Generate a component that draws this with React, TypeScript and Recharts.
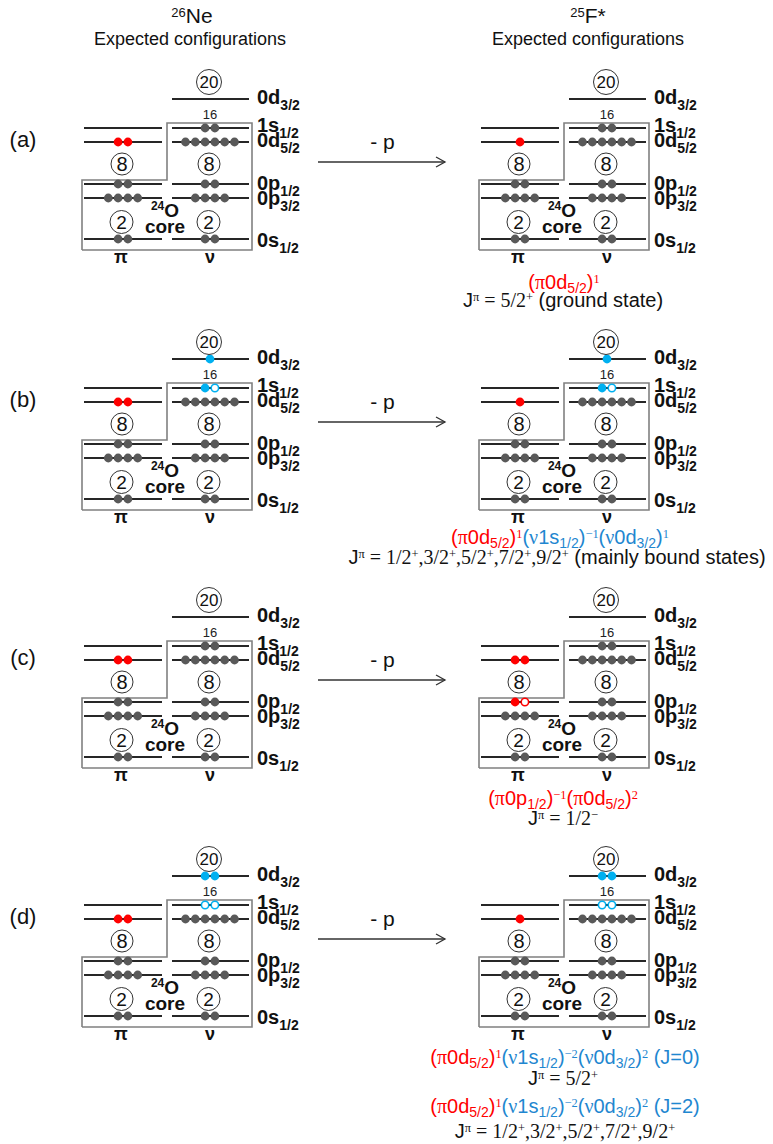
import React from "react";
import { ComposedChart, XAxis, YAxis, Scatter, ReferenceLine } from "recharts";

// shell-model orbitals, schematic energies (0s1/2 = 0)
const orbitals = ["0s", "0p", "0p", "0d", "1s", "0d"];
const spins = ["1/2", "3/2", "1/2", "5/2", "1/2", "3/2"];
const energies = [0, 41, 55, 97, 111, 140];

// occupation per orbital: g = 24O core, r = proton, b = neutron, upper case = hole
const ne26Protons = [
  ["gg", "gggg", "gg", "rr", ""],
  ["gg", "gggg", "gg", "rr", ""],
  ["gg", "gggg", "gg", "rr", ""],
  ["gg", "gggg", "gg", "rr", ""],
];
const ne26Neutrons = [
  ["gg", "gggg", "gg", "gggggg", "gg", ""],
  ["gg", "gggg", "gg", "gggggg", "bB", "b"],
  ["gg", "gggg", "gg", "gggggg", "gg", ""],
  ["gg", "gggg", "gg", "gggggg", "BB", "bb"],
];
const f25Protons = [
  ["gg", "gggg", "gg", "r", ""],
  ["gg", "gggg", "gg", "r", ""],
  ["gg", "gggg", "rR", "rr", ""],
  ["gg", "gggg", "gg", "r", ""],
];
const f25Neutrons = [
  ["gg", "gggg", "gg", "gggggg", "gg", ""],
  ["gg", "gggg", "gg", "gggggg", "bB", "b"],
  ["gg", "gggg", "gg", "gggggg", "gg", ""],
  ["gg", "gggg", "gg", "gggggg", "BB", "bb"],
];

// shell gaps
const magicNumbers = ["20", "8", "8", "2", "2"];
const magicSides = ["n", "p", "n", "p", "n"];
const magicEnergies = [157, 75, 75, 17, 17];
const subshellEnergy = 125;

const rowTags = ["(a)", "(b)", "(c)", "(d)"];

// layout
const W = 773;
const H = 1144;
const ROW_TOP = [0, 260, 518, 777];
const DX = [0, 397];
const SIDES: Record<string, { from: number; to: number; mid: number }> = {
  p: { from: 84, to: 162, mid: 123 },
  n: { from: 172, to: 249, mid: 210 },
};
const LABEL_SHIFT = [8, 7, 6, 5, 4, 5];
const SP = 9.8;
const E_TOP = 239;
const CH = 272;

const sans = '"Liberation Sans", Arial, sans-serif';
const serif = '"Liberation Serif", "Times New Roman", serif';
const RED = "#ff0000";
const BLUE = "#1f87d0";
const DOT = { g: "#595959", r: "#ff0000", b: "#00b0f0" } as Record<string, string>;
const RING: Record<string, { r: number; fs: number; dx: number }> = {
  "20": { r: 12.5, fs: 17, dx: -1 },
  "8": { r: 11, fs: 20, dx: -1 },
  "2": { r: 11.5, fs: 19, dx: -1.5 },
};

const Nucleon = (p: any) => {
  const { cx, cy, payload } = p;
  const k: string = payload.k;
  const hole = k !== k.toLowerCase();
  const col = DOT[k.toLowerCase()];
  return (
    <circle
      cx={cx}
      cy={cy}
      r={hole ? 3.7 : 4.4}
      fill={hole ? "#fff" : col}
      stroke={hole ? col : "none"}
      strokeWidth={1.6}
    />
  );
};

const LevelLabel = (p: any) => {
  const { cx, cy, payload } = p;
  return (
    <text x={cx} y={cy + payload.s} fontFamily={sans} fontWeight="bold" fontSize={20} fill="#111">
      {payload.o}
      <tspan fontSize={14} dy={6}>
        {payload.j}
      </tspan>
    </text>
  );
};

const Mark = (p: any) => {
  const { cx, cy, payload } = p;
  if (payload.kind === "magic") {
    const ring = RING[payload.t];
    return (
      <g>
        <circle cx={cx} cy={cy} r={ring.r} fill="#fff" stroke="#333" strokeWidth={1} />
        <text x={cx} y={cy + ring.fs * 0.36} textAnchor="middle" fontFamily={sans} fontSize={ring.fs} fill="#111">
          {payload.t}
        </text>
      </g>
    );
  }
  if (payload.kind === "plain") {
    return (
      <text x={cx} y={cy + 4.5} textAnchor="middle" fontFamily={sans} fontSize={13} fill="#222">
        {payload.t}
      </text>
    );
  }
  if (payload.kind === "o24") {
    return (
      <text x={cx} y={cy + 6.5} textAnchor="middle" fontFamily={sans} fontWeight="bold" fontSize={19} fill="#111">
        <tspan fontSize={12} dy={-7}>24</tspan>
        <tspan dy={7}>O</tspan>
      </text>
    );
  }
  return (
    <text x={cx} y={cy + 5} textAnchor="middle" fontFamily={sans} fontWeight="bold" fontSize={payload.kind === "core" ? 19 : 18} fill="#111">
      {payload.t}
    </text>
  );
};

const Arrow = (p: any) => {
  const { x1, y1, x2, y2 } = p;
  return (
    <g>
      <line x1={x1} y1={y1} x2={x2} y2={y2} stroke="#333" strokeWidth={1.3} />
      <polyline points={`${x2 - 9},${y2 - 5} ${x2},${y2} ${x2 - 9},${y2 + 5}`} fill="none" stroke="#333" strokeWidth={1.3} />
      <text x={(x1 + x2) / 2 + 1} y={y1 - 13} textAnchor="middle" fontFamily={sans} fontSize={21} fill="#111">
        - p
      </text>
    </g>
  );
};

const Hidden = () => <g />;

function Row({ r }: { r: number }) {
  const dots: any[] = [];
  const labels: any[] = [];
  const marks: any[] = [];
  const boxes: any[][] = [];
  const lines: any[] = [];
  [0, 1].forEach((d) => {
    const ox = DX[d];
    const occ: Record<string, string[]> = {
      p: d === 0 ? ne26Protons[r] : f25Protons[r],
      n: d === 0 ? ne26Neutrons[r] : f25Neutrons[r],
    };
    ["p", "n"].forEach((s) => {
      const side = SIDES[s];
      energies.forEach((e, i) => {
        if (s === "p" && i === 5) return;
        lines.push({ x1: ox + side.from, x2: ox + side.to, y: e, key: `${d}${s}${i}` });
        const str = occ[s][i] || "";
        str.split("").forEach((k, j) =>
          dots.push({ x: ox + side.mid + (j - (str.length - 1) / 2) * SP, y: e, k })
        );
      });
    });
    energies.forEach((e, i) =>
      labels.push({ x: ox + 257, y: e, o: orbitals[i], j: spins[i], s: LABEL_SHIFT[i] })
    );
    magicNumbers.forEach((m, i) =>
      marks.push({
        x: ox + SIDES[magicSides[i]].mid + RING[m].dx,
        y: magicEnergies[i],
        t: m,
        kind: "magic",
      })
    );
    marks.push({ x: ox + 210, y: subshellEnergy, t: "16", kind: "plain" });
    marks.push({ x: ox + 165, y: 29, kind: "o24" });
    marks.push({ x: ox + 165, y: 11, t: "core", kind: "core" });
    marks.push({ x: ox + 121, y: -19, t: "π", kind: "bold" });
    marks.push({ x: ox + 210, y: -19, t: "ν", kind: "bold" });
    const bottom = energies[0] - 11;
    const step = energies[2] + 4;
    const top = energies[4] + 5;
    boxes.push([
      { x: ox + 82, y: bottom },
      { x: ox + 82, y: step },
      { x: ox + 167, y: step },
      { x: ox + 167, y: top },
      { x: ox + 252, y: top },
      { x: ox + 252, y: bottom },
      { x: ox + 82, y: bottom },
    ]);
  });

  return (
    <div style={{ position: "absolute", left: 0, top: ROW_TOP[r], width: W, height: CH }}>
      <ComposedChart width={W} height={CH} margin={{ top: 0, right: 0, bottom: 0, left: 0 }}>
        <XAxis type="number" dataKey="x" domain={[0, W]} allowDataOverflow hide />
        <YAxis type="number" dataKey="y" domain={[E_TOP - CH, E_TOP]} allowDataOverflow hide />
        {boxes.map((b, i) => (
          <Scatter
            key={`box${i}`}
            data={b}
            dataKey="y"
            line={{ stroke: "#808080", strokeWidth: 1.6 }}
            lineType="joint"
            shape={Hidden}
            isAnimationActive={false}
          />
        ))}
        {lines.map((l) => (
          <ReferenceLine
            key={l.key}
            segment={[
              { x: l.x1, y: l.y },
              { x: l.x2, y: l.y },
            ]}
            stroke="#262626"
            strokeWidth={1.8}
          />
        ))}
        <ReferenceLine
          segment={[
            { x: 318, y: 77 },
            { x: 445, y: 77 },
          ]}
          shape={Arrow}
        />
        <Scatter data={dots} dataKey="y" shape={Nucleon} isAnimationActive={false} />
        <Scatter data={labels} dataKey="y" shape={LevelLabel} isAnimationActive={false} />
        <Scatter data={marks} dataKey="y" shape={Mark} isAnimationActive={false} />
      </ComposedChart>
    </div>
  );
}

const Sb = ({ c }: { c: string }) => (
  <span style={{ fontSize: "0.7em", position: "relative", top: "0.3em" }}>{c}</span>
);
const Sp = ({ c, f }: { c: string; f?: string }) => (
  <span style={{ fontSize: "0.62em", position: "relative", top: "-0.5em", fontFamily: f || serif }}>{c}</span>
);
const G = ({ c }: { c: string }) => <span style={{ fontFamily: serif }}>{c}</span>;

const Pi = ({ orb, j, pw }: { orb: string; j: string; pw: string }) => (
  <span style={{ color: RED }}>
    (<G c="π" />
    {orb}
    <Sb c={j} />)
    <Sp c={pw} />
  </span>
);
const Nu = ({ orb, j, pw }: { orb: string; j: string; pw: string }) => (
  <span style={{ color: BLUE }}>
    (<G c="ν" />
    {orb}
    <Sb c={j} />)
    <Sp c={pw} />
  </span>
);
const J = ({ v, tail }: { v: React.ReactNode; tail?: string }) => (
  <span>
    J<Sp c="π" />
    <span style={{ fontFamily: serif }}> = {v}</span>
    {tail ? <span> {tail}</span> : null}
  </span>
);
const Plus = ({ s }: { s: string }) => (
  <span>
    {s}
    <Sp c="+" />
  </span>
);
const spinList = ["1/2", "3/2", "5/2", "7/2", "9/2"];
const SpinList = () => (
  <>
    {spinList.map((s, i) => (
      <React.Fragment key={s}>
        {i > 0 ? "," : ""}
        <Plus s={s} />
      </React.Fragment>
    ))}
  </>
);

const At = ({ x, y, fs, children }: { x: number; y: number; fs: number; children: React.ReactNode }) => (
  <div
    style={{
      position: "absolute",
      left: x,
      top: y,
      transform: "translate(-50%, -50%)",
      whiteSpace: "nowrap",
      fontSize: fs,
      lineHeight: `${Math.round(fs * 0.8)}px`,
      fontFamily: sans,
      color: "#111",
    }}
  >
    {children}
  </div>
);

export default function App() {
  return (
    <div
      style={{
        position: "absolute",
        left: 0,
        top: 0,
        width: W,
        height: H,
        background: "#fff",
        overflow: "hidden",
        fontFamily: sans,
      }}
    >
      <At x={192} y={17} fs={21}>
        <Sp c="26" f={sans} />
        Ne
      </At>
      <At x={190} y={39} fs={18}>
        Expected configurations
      </At>
      <At x={588} y={17} fs={21}>
        <Sp c="25" f={sans} />
        F*
      </At>
      <At x={588} y={39} fs={18}>
        Expected configurations
      </At>
      {rowTags.map((t, i) => (
        <At key={t} x={23} y={ROW_TOP[i] + 140} fs={22}>
          {t}
        </At>
      ))}
      {[0, 1, 2, 3].map((r) => (
        <Row key={r} r={r} />
      ))}

      <At x={564} y={283} fs={20}>
        <Pi orb="0d" j="5/2" pw="1" />
      </At>
      <At x={563} y={301} fs={20}>
        <J v={<Plus s="5/2" />} tail="(ground state)" />
      </At>

      <At x={560} y={538} fs={20}>
        <Pi orb="0d" j="5/2" pw="1" />
        <Nu orb="1s" j="1/2" pw="−1" />
        <Nu orb="0d" j="3/2" pw="1" />
      </At>
      <At x={557} y={558} fs={20}>
        <J v={<SpinList />} tail="(mainly bound states)" />
      </At>

      <At x={563} y={799} fs={20}>
        <Pi orb="0p" j="1/2" pw="−1" />
        <Pi orb="0d" j="5/2" pw="2" />
      </At>
      <At x={563} y={819} fs={20}>
        <J
          v={
            <span>
              1/2<Sp c="−" />
            </span>
          }
        />
      </At>

      <At x={565} y={1058} fs={20}>
        <Pi orb="0d" j="5/2" pw="1" />
        <Nu orb="1s" j="1/2" pw="−2" />
        <Nu orb="0d" j="3/2" pw="2" />
        <span style={{ color: BLUE }}> (J=0)</span>
      </At>
      <At x={563} y={1079} fs={20}>
        <J v={<Plus s="5/2" />} />
      </At>
      <At x={565} y={1107} fs={20}>
        <Pi orb="0d" j="5/2" pw="1" />
        <Nu orb="1s" j="1/2" pw="−2" />
        <Nu orb="0d" j="3/2" pw="2" />
        <span style={{ color: BLUE }}> (J=2)</span>
      </At>
      <At x={565} y={1132} fs={20}>
        <J v={<SpinList />} />
      </At>
    </div>
  );
}
